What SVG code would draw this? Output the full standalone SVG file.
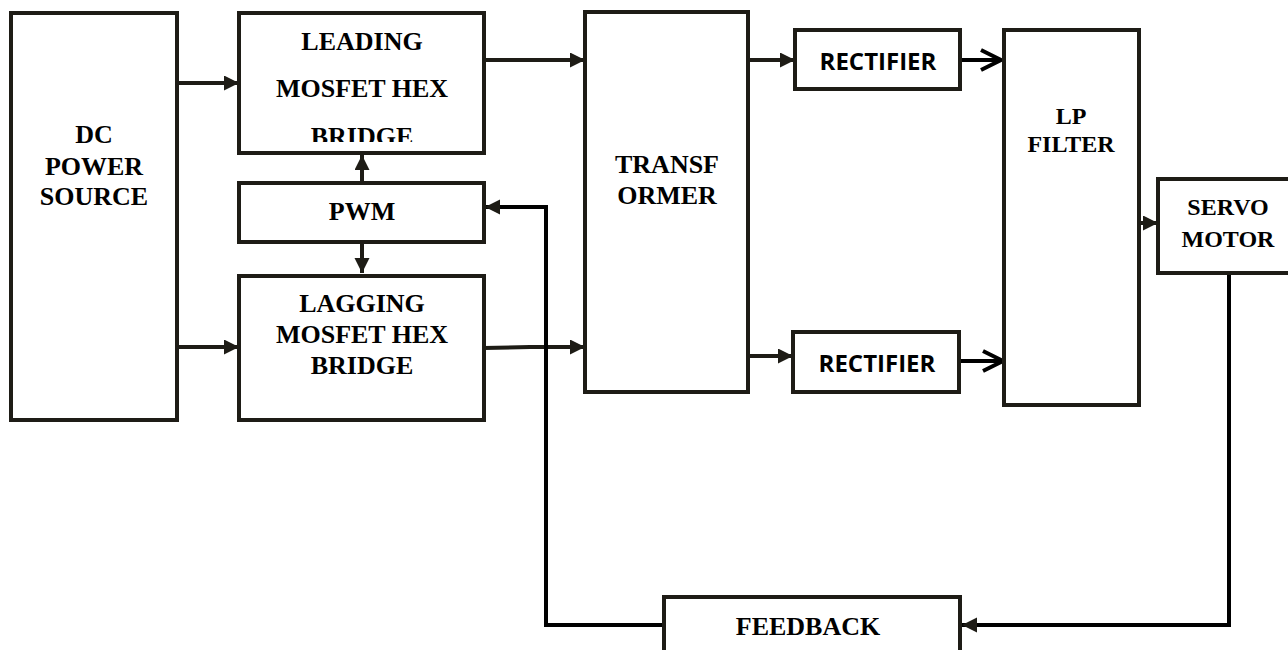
<svg xmlns="http://www.w3.org/2000/svg" width="1288" height="650" viewBox="0 0 1288 650">
<style>
.box{fill:#fff;stroke:#1e1c16;stroke-width:4}
.t{font-family:"Liberation Serif","Times New Roman",serif;font-weight:bold;font-size:26px;fill:#000;text-anchor:middle}
.t24{font-size:24px}
.s{font-family:"Open Sans","Liberation Sans",sans-serif;font-weight:bold;font-size:24px;fill:#000;text-anchor:middle}
.c{fill:none;stroke:#1e1c16;stroke-width:4}
.fb{fill:none;stroke:#000;stroke-width:4}
</style>
<defs>
<marker id="tri" markerUnits="userSpaceOnUse" markerWidth="16" markerHeight="16" refX="15" refY="7.5" orient="auto">
<path d="M0,0 L15,7.5 L0,15 z" fill="#1e1c16"/>
</marker>
<marker id="chev" markerUnits="userSpaceOnUse" markerWidth="26" markerHeight="26" refX="22" refY="12" orient="auto">
<path d="M2,2 L22,12 L2,22" fill="none" stroke="#000" stroke-width="4"/>
</marker>
<clipPath id="clipLead"><rect x="239" y="13" width="245" height="129"/></clipPath>
</defs>
<rect width="1288" height="650" fill="#fff"/>
<g id="connectors">
<line class="c" x1="177" y1="83" x2="239" y2="83" marker-end="url(#tri)"/>
<line class="c" x1="177" y1="347" x2="239" y2="347" marker-end="url(#tri)"/>
<line class="c" x1="362" y1="183" x2="362" y2="155" marker-end="url(#tri)"/>
<line class="c" x1="362" y1="243" x2="362" y2="273" marker-end="url(#tri)"/>
<line class="c" x1="484" y1="60" x2="585" y2="60" marker-end="url(#tri)"/>
<polyline class="c" points="484,348 530,347 585,347" marker-end="url(#tri)"/>
<line class="c" x1="748" y1="60" x2="795" y2="60" marker-end="url(#tri)"/>
<line class="c" x1="746" y1="356" x2="793" y2="356" marker-end="url(#tri)"/>
<line class="fb" x1="957" y1="60" x2="1001" y2="60" marker-end="url(#chev)"/>
<line class="fb" x1="959" y1="361" x2="1003" y2="361" marker-end="url(#chev)"/>
<line class="c" x1="1139" y1="223" x2="1158" y2="223" marker-end="url(#tri)"/>
<polyline class="fb" points="1229,273 1229,625 962,625" marker-end="url(#tri)"/>
<polyline class="fb" points="664,625 546,625 546,207 485,207" marker-end="url(#tri)"/>
</g>
<g id="dc-power-source">
<rect class="box" x="11" y="13" width="166" height="407"/>
<text class="t" x="94" y="143">DC</text>
<text class="t" x="94" y="175">POWER</text>
<text class="t" x="94" y="205">SOURCE</text>
</g>
<g id="leading-bridge">
<rect class="box" x="239" y="13" width="245" height="140"/>
<text class="t" x="362" y="50">LEADING</text>
<text class="t" x="362" y="97">MOSFET HEX</text>
<text class="t" x="362" y="145" clip-path="url(#clipLead)">BRIDGE</text>
</g>
<g id="pwm">
<rect class="box" x="239" y="183" width="245" height="59"/>
<text class="t" x="362" y="220">PWM</text>
</g>
<g id="lagging-bridge">
<rect class="box" x="239" y="276" width="245" height="144"/>
<text class="t" x="362" y="312">LAGGING</text>
<text class="t" x="362" y="343">MOSFET HEX</text>
<text class="t" x="362" y="374">BRIDGE</text>
</g>
<g id="transformer">
<rect class="box" x="585" y="12" width="163" height="380"/>
<text class="t" x="667" y="173">TRANSF</text>
<text class="t" x="667" y="204">ORMER</text>
</g>
<g id="rectifier-top">
<rect class="box" x="795" y="30" width="165" height="59"/>
<text class="s" x="878" y="70">RECTIFIER</text>
</g>
<g id="rectifier-bottom">
<rect class="box" x="793" y="332" width="166" height="60"/>
<text class="s" x="877" y="372">RECTIFIER</text>
</g>
<g id="lp-filter">
<rect class="box" x="1004" y="30" width="135" height="375"/>
<text class="t t24" x="1071" y="124">LP</text>
<text class="t t24" x="1071" y="152">FILTER</text>
</g>
<g id="servo-motor">
<rect class="box" x="1158" y="179" width="145" height="94"/>
<text class="t t24" x="1228" y="215">SERVO</text>
<text class="t t24" x="1228" y="247">MOTOR</text>
</g>
<g id="feedback">
<rect class="box" x="664" y="597" width="296" height="70"/>
<text class="t" x="808" y="635">FEEDBACK</text>
</g>
</svg>
